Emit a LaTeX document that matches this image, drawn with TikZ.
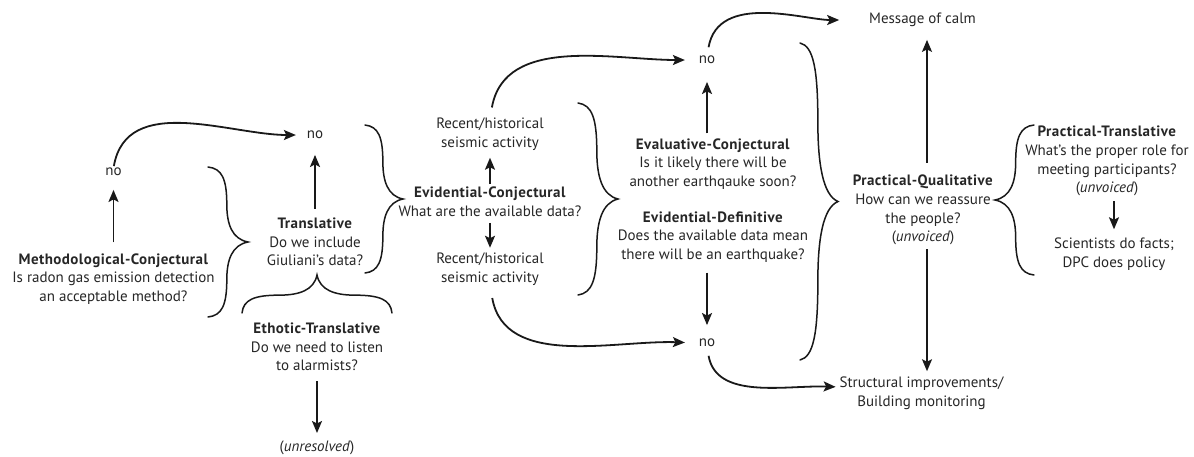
\documentclass[tikz,border=0pt]{standalone}
\usepackage{fontspec}
\setmainfont{PT Sans}[BoldFeatures={LetterSpace=3}]
\usetikzlibrary{arrows.meta}
\newcommand\Vbrace[4]{% x0, ytop, ybot, xtip
 \pgfmathsetmacro\brD{(#4)-(#1)}
 \pgfmathsetmacro\brL{(#3)-(#2)}
 \pgfmathsetmacro\brM{((#2)+(#3))/2}
 \draw[brc] (#1,#2) .. controls ({#1+0.35*(\brD)},{#2+0.01*(\brL)}) and ({#1+0.47*(\brD)},{#2+0.08*(\brL)}) .. ({#1+0.47*(\brD)},{#2+0.25*(\brL)})
   .. controls ({#1+0.47*(\brD)},{\brM-0.12*(\brL)}) and ({#1+0.6*(\brD)},{\brM-0.02*(\brL)}) .. (#4,\brM)
   .. controls ({#1+0.6*(\brD)},{\brM+0.02*(\brL)}) and ({#1+0.47*(\brD)},{\brM+0.12*(\brL)}) .. ({#1+0.47*(\brD)},{#3-0.25*(\brL)})
   .. controls ({#1+0.47*(\brD)},{#3-0.08*(\brL)}) and ({#1+0.35*(\brD)},{#3-0.01*(\brL)}) .. (#1,#3);
}
\newcommand\Hbrace[4]{% y0, xleft, xright, ytip
 \pgfmathsetmacro\brD{(#4)-(#1)}
 \pgfmathsetmacro\brL{(#3)-(#2)}
 \pgfmathsetmacro\brM{((#2)+(#3))/2}
 \draw[brc] (#2,#1) .. controls ({#2+0.01*(\brL)},{#1+0.35*(\brD)}) and ({#2+0.08*(\brL)},{#1+0.47*(\brD)}) .. ({#2+0.25*(\brL)},{#1+0.47*(\brD)})
   .. controls ({\brM-0.12*(\brL)},{#1+0.47*(\brD)}) and ({\brM-0.02*(\brL)},{#1+0.6*(\brD)}) .. (\brM,#4)
   .. controls ({\brM+0.02*(\brL)},{#1+0.6*(\brD)}) and ({\brM+0.12*(\brL)},{#1+0.47*(\brD)}) .. ({#3-0.25*(\brL)},{#1+0.47*(\brD)})
   .. controls ({#3-0.08*(\brL)},{#1+0.47*(\brD)}) and ({#3-0.01*(\brL)},{#1+0.35*(\brD)}) .. (#3,#1);
}
\begin{document}
\begin{tikzpicture}[x=1pt,y=1pt,
 txt/.style={align=center, inner sep=0pt, outer sep=0pt, text=black!85, font=\fontsize{15}{18.7}\selectfont},
 arr/.style={-{Stealth[length=12pt,width=10pt,inset=2.5pt]}, line width=1.8pt, black!90},
 brc/.style={line width=1.5pt, black!90, line cap=round}]
\useasboundingbox (0,0) rectangle (1194,-456);
% nodes
\node[txt] (noA) at (113.5,-172) {no};
\node[txt] (mc) at (113.5,-279) {\textbf{Methodological-Conjectural}\\Is radon gas emission detection\\an acceptable method?};
\node[txt] (noB) at (315,-135) {no};
\node[txt] (tr) at (315,-242) {\textbf{Translative}\\Do we include\\Giuliani’s data?};
\node[txt] (et) at (317,-347) {\textbf{Ethotic-Translative}\\Do we need to listen\\to alarmists?};
\node[txt] (unres) at (317,-448) {(\textit{unresolved})};
\node[txt] (rh1) at (490,-134.5) {Recent/historical\\seismic activity};
\node[txt] (ec) at (490,-202) {\textbf{Evidential-Conjectural}\\What are the available data?};
\node[txt] (rh2) at (490,-269) {Recent/historical\\seismic activity};
\node[txt] (noC) at (707,-60) {no};
\node[txt] (evc) at (713,-164) {\textbf{Evaluative-Conjectural}\\Is it likely there will be\\another earthqauke soon?};
\node[txt] (evd) at (713,-237) {\textbf{Evidential-Definitive}\\Does the available data mean\\there will be an earthquake?};
\node[txt] (noD) at (707,-343) {no};
\node[txt] (calm) at (922.5,-20) {Message of calm};
\node[txt] (pq) at (923,-210) {\textbf{Practical-Qualitative}\\How can we reassure\\the people?\\(\textit{unvoiced})};
\node[txt] (struct) at (921.5,-393.5) {Structural improvements/\\Building monitoring};
\node[txt] (pt) at (1107,-161) {\textbf{Practical-Translative}\\What’s the proper role for\\meeting participants?\\(\textit{unvoiced})};
\node[txt] (sci) at (1114,-254.5) {Scientists do facts;\\DPC does policy};
% braces
\Vbrace{208}{-167}{-317}{248}
\Vbrace{365}{-125}{-273}{403}
\Hbrace{-313}{242}{392}{-275}
\Vbrace{578}{-103}{-295}{618}
\Vbrace{800}{-43}{-360}{838}
\Vbrace{1034}{-125}{-275}{995}
% straight arrows
\draw[arr, shorten <=11pt, shorten >=14pt] (mc.north -| noA) -- (noA.south);
\draw[arr, shorten <=9pt, shorten >=16pt] (tr.north) -- (noB.south);
\draw[arr, shorten <=10pt, shorten >=8pt] (et.south) -- (unres.north);
\draw[arr, shorten <=3pt, shorten >=7pt] (ec.north) -- (rh1.south);
\draw[arr, shorten <=6pt, shorten >=5pt] (ec.south) -- (rh2.north);
\draw[arr, shorten <=5pt, shorten >=18pt] (evc.north -| noC) -- (noC.south);
\draw[arr, shorten <=10pt, shorten >=14pt] (evd.south -| noD) -- (noD.north);
\draw[arr, shorten <=12pt, shorten >=13pt] ([xshift=4pt]pq.north) -- ([xshift=4.5pt]calm.south);
\draw[arr, shorten <=4pt, shorten >=6pt] ([xshift=4pt]pq.south) -- ([xshift=5.5pt]struct.north);
\draw[arr, shorten <=5pt, shorten >=9pt] (pt.south -| sci) -- (sci.north);
% curved arrows
\draw[arr, shorten <=2pt, shorten >=11pt] (noA.north) to[out=80,in=180] (noB.west);
\draw[arr, shorten <=11pt, shorten >=14pt] (rh1.north) to[out=80,in=180] (noC.west);
\draw[arr, shorten <=13pt, shorten >=14pt] (rh2.south) to[out=-80,in=178] (noD.west);
\draw[arr, shorten <=9pt, shorten >=30pt] (noC.north) to[out=80,in=180] (calm.west);
\draw[arr, shorten <=9pt, shorten >=4pt] (noD.south) to[out=-80,in=178] ([yshift=6.5pt]struct.west);
\end{tikzpicture}
\end{document}
